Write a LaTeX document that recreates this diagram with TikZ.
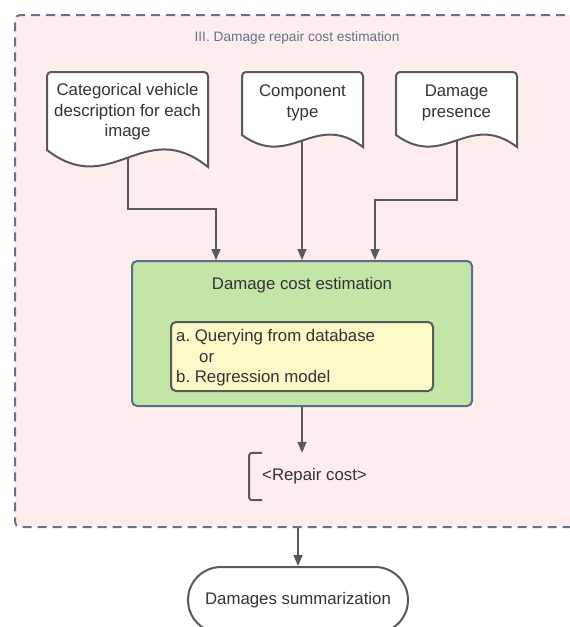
\documentclass[tikz,border=0pt]{standalone}
\usepackage{fontspec}
\setmainfont{Liberation Sans}
\usetikzlibrary{arrows.meta,shapes.misc,calc}

\definecolor{panelpink}{HTML}{FDEDEC}
\definecolor{panelline}{HTML}{65728F}
\definecolor{estgreen}{HTML}{C4E5A8}
\definecolor{estline}{HTML}{5B6D8C}
\definecolor{noteyellow}{HTML}{FBF9C8}
\definecolor{inkgrey}{HTML}{595959}
\definecolor{textgrey}{HTML}{333333}

\tikzset{
  txt/.style={font=\fontsize{16.8}{20.5}\selectfont\frenchspacing, text=textgrey, inner sep=0pt},
  doctext/.style={txt, align=center},
  docstyle/.style={draw=inkgrey, line width=2pt, fill=white},
  flow/.style={draw=inkgrey, line width=1.6pt, -{Triangle[length=11pt,width=9pt]}},
  panel/.style={draw=panelline, fill=panelpink, line width=2pt, dash pattern=on 9pt off 6pt, rounded corners=5pt},
  estbox/.style={draw=estline, fill=estgreen, line width=2pt, rounded corners=5pt},
  notebox/.style={draw=inkgrey, fill=noteyellow, line width=2pt, rounded corners=5pt},
  terminal/.style={draw=inkgrey, fill=white, line width=2pt, rounded rectangle, txt}
}

% document symbol: x0, x1, top, left bottom, right bottom
\newcommand\docsymbol[5]{%
  \pgfmathsetmacro\dsw{#2-#1}%
  \pgfmathsetmacro\dsa{#5-#4}%
  \draw[docstyle] (#1,#4) [rounded corners=4pt] -- (#1,#3) -- (#2,#3) [sharp corners] -- (#2,#5)
    .. controls ({#1+0.6*\dsw},{#4-2.06*\dsa}) and ({#1+0.4*\dsw},{#4+2.94*\dsa}) .. (#1,#4) -- cycle;
}

\begin{document}
\begin{tikzpicture}[x=1pt,y=-1pt]
\useasboundingbox (0,0) rectangle (570,627);
\clip (0,0) rectangle (570,627);

% dashed stage panel
\node[panel, minimum width=585pt, minimum height=512pt] (stage) at (307.5,271) {};
\node[font=\fontsize{13.7}{16}\selectfont, text=panelline, inner sep=0pt] (title) at (297,37.5) {III. Damage repair cost estimation};

% input documents
\docsymbol{47}{208}{72}{150}{167}
\docsymbol{242}{363}{72}{135}{147}
\docsymbol{396}{517}{72}{135}{147}
\node[doctext] (d1) at (127.5,112) {Categorical vehicle\\description for each\\image};
\node[doctext] (d2) at (302.5,103) {Component\\type};
\node[doctext] (d3) at (456.5,103) {Damage\\presence};
\coordinate (d1b) at (128,158);
\coordinate (d2b) at (302,141);
\coordinate (d3b) at (457,141);

% estimation block
\node[estbox, minimum width=340pt, minimum height=145pt] (est) at (302,333.5) {};
\node[txt] (esttitle) at (302,285) {Damage cost estimation};
\node[notebox, minimum width=262pt, minimum height=69pt] (opts) at (302,356.5) {};
\node[txt, align=left, anchor=west] (optstext) at (176,358)
  {a. Querying from database\\\hspace*{23pt}or\\b. Regression model};

% inputs into estimation
\draw[flow] (d1b) |- (216,209) -- (216,260);
\draw[flow] (d2b) -- (d2b |- est.north);
\draw[flow] (d3b) |- (375,200) -- (375,260);

% repair cost annotation
\node[txt, anchor=west, minimum height=47pt, inner xsep=13pt] (rc) at (249,476.5) {<Repair cost>};
\draw[inkgrey, line width=2pt, rounded corners=3pt]
  ($(rc.north west)+(13,0)$) -- (rc.north west) -- (rc.south west) -- ++(13,0);
\draw[flow] (est.south) -- (est.south |- rc.north);

% next stage
\node[terminal, minimum width=220pt, minimum height=66pt] (summ) at (298,600) {\raisebox{-1.5pt}{Damages summarization}};
\draw[flow] (stage.south -| summ.north) -- (summ.north);
\end{tikzpicture}
\end{document}
